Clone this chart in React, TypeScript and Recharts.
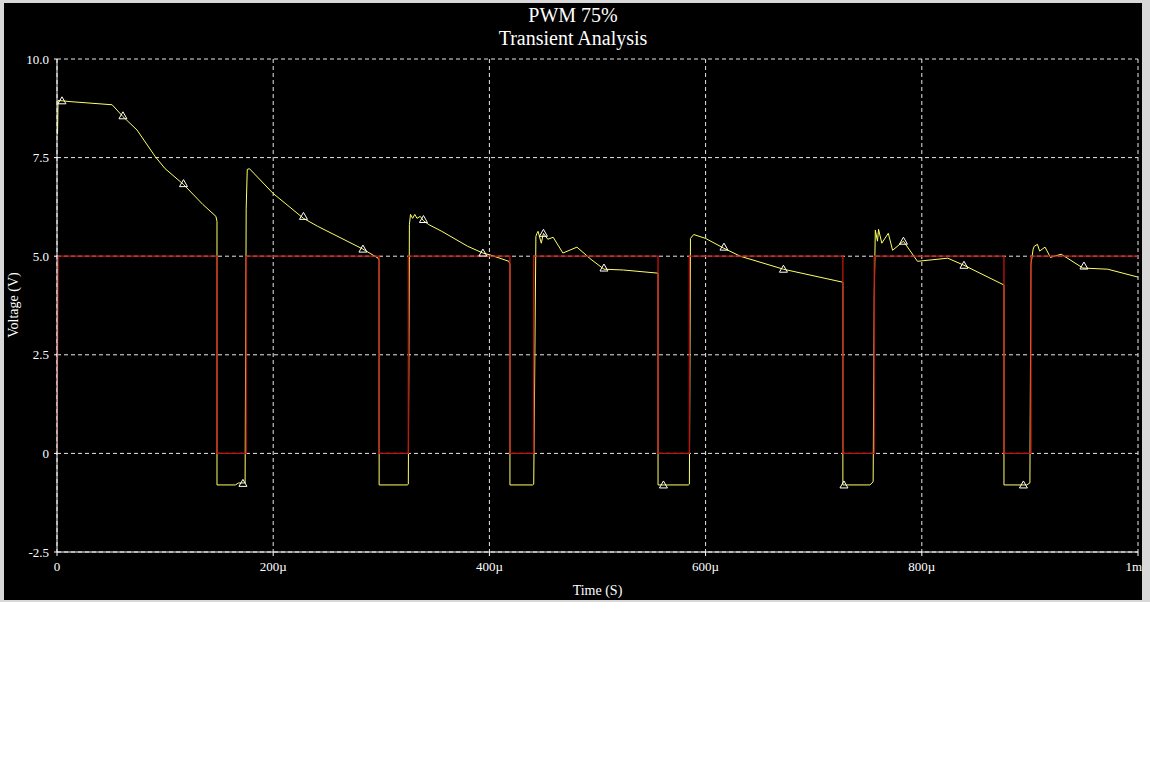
import React from 'react';
import { ComposedChart, Line, XAxis, YAxis, CartesianGrid } from 'recharts';

// PWM drive signal (red), time in µs
const pwmTime = [0, 1, 148, 148, 175, 175, 298, 298, 325, 325, 419, 419, 441, 441, 556, 556, 585, 585, 727, 727, 756, 756, 876, 876, 901, 901, 1000];
const pwmVolt = [0, 5, 5, 0, 0, 5, 5, 0, 0, 5, 5, 0, 0, 5, 5, 0, 0, 5, 5, 0, 0, 5, 5, 0, 0, 5, 5];

// output voltage (yellow)
const outTime = [
  0.5, 1, 12, 51, 61, 74, 91, 100, 117, 135, 147, 148, 148, 165, 168, 174,
  175, 176, 178, 200, 228, 241, 283, 294, 297, 298, 298, 324,
  325, 326, 327, 329, 331, 333, 336, 339, 344, 356, 380, 394, 401, 418, 419, 419, 440,
  441, 443, 444, 445, 448, 450, 454, 459, 468, 481, 494, 506, 524, 556, 556, 584,
  585, 586, 589, 600, 617, 632, 672, 727, 727, 752, 755,
  756, 757, 759, 760, 763, 769, 773, 783, 796, 824, 839, 876, 876, 897, 900,
  901, 903, 904, 907, 909, 914, 919, 929, 949, 972, 1000,
];
const outVolt = [
  8.1, 8.95, 8.92, 8.84, 8.54, 8.2, 7.52, 7.22, 6.82, 6.31, 6.01, 5.88, -0.8, -0.8, -0.75, -0.75,
  6.2, 7.2, 7.22, 6.59, 5.96, 5.76, 5.18, 5.0, 4.95, 4.9, -0.8, -0.8,
  -0.78, 5.8, 6.06, 5.96, 6.06, 5.96, 6.01, 5.9, 5.8, 5.63, 5.25, 5.08, 5.03, 4.87, 4.8, -0.8, -0.8,
  -0.78, 5.5, 5.58, 5.63, 5.33, 5.58, 5.43, 5.48, 5.08, 5.23, 4.92, 4.67, 4.65, 4.57, -0.8, -0.8,
  -0.78, 5.45, 5.55, 5.45, 5.2, 5.0, 4.67, 4.34, -0.8, -0.8, -0.72,
  4.0, 5.66, 5.38, 5.68, 5.33, 5.58, 5.15, 5.38, 4.87, 4.95, 4.77, 4.27, -0.8, -0.8, -0.75,
  4.8, 5.18, 5.25, 5.3, 5.13, 5.23, 4.97, 5.05, 4.7, 4.67, 4.47,
];

// probe markers along the output trace
const markerTime = [4.6, 61, 117, 172, 228, 283, 339, 394, 450, 506, 561, 617, 672, 728, 783, 839, 894, 950];
const markerVolt = [8.94, 8.56, 6.84, -0.76, 6.01, 5.18, 5.93, 5.08, 5.58, 4.7, -0.8, 5.23, 4.67, -0.8, 5.38, 4.77, -0.8, 4.75];

const xTicks = [0, 200, 400, 600, 800, 1000];
const xTickLabels = ['0', '200µ', '400µ', '600µ', '800µ', '1m'];
const yTicks = [-2.5, 0, 2.5, 5, 7.5, 10];
const yTickLabels = ['-2.5', '0', '2.5', '5.0', '7.5', '10.0'];

const pwmData = pwmTime.map((t, i) => ({ t, v: pwmVolt[i] }));
const outData = outTime.map((t, i) => ({ t, v: outVolt[i] }));
const markerData = markerTime.map((t, i) => ({ t, v: markerVolt[i] }));

const FONT = '"Liberation Serif", "Times New Roman", serif';

function Triangle(props: any) {
  const { cx, cy, index } = props;
  if (cx == null || cy == null) return <g key={index} />;
  return (
    <polygon
      key={index}
      points={`${cx},${cy - 4} ${cx - 4},${cy + 3} ${cx + 4},${cy + 3}`}
      fill="none"
      stroke="#ffffff"
      strokeWidth={1}
    />
  );
}

// last label sits right at the panel edge, so anchor it at its end
function XTick(props: any) {
  const { x, y, payload, index } = props;
  const i = xTicks.indexOf(payload.value);
  const last = i === xTicks.length - 1;
  return (
    <text
      key={index}
      x={last ? x + 4 : x}
      y={y}
      dy="0.71em"
      textAnchor={last ? 'end' : 'middle'}
      fill="#ffffff"
      fontSize={13}
      fontFamily={FONT}
    >
      {xTickLabels[i]}
    </text>
  );
}

export default function App() {
  return (
    <div style={{ position: 'absolute', left: 0, top: 0, width: 1150, height: 769, background: '#fff' }}>
      <div style={{ position: 'absolute', left: 0, top: 0, width: 1150, height: 602, background: '#d8d8d8' }} />
      <div
        style={{
          position: 'absolute',
          left: 4,
          top: 3,
          width: 1138,
          height: 597,
          background: '#000',
          overflow: 'hidden',
          fontFamily: FONT,
        }}
      >
        <div style={{ position: 'absolute', left: 0, width: 1138, top: 1, textAlign: 'center', color: '#fff', fontSize: 20, lineHeight: '23px' }}>
          PWM 75%
          <br />
          Transient Analysis
        </div>
        <div style={{ position: 'absolute', left: 53, width: 1081, top: 580, textAlign: 'center', color: '#fff', fontSize: 14 }}>
          Time (S)
        </div>
        <div
          style={{
            position: 'absolute',
            left: 10,
            top: 302,
            color: '#fff',
            fontSize: 14,
            whiteSpace: 'nowrap',
            transform: 'translate(-50%, -50%) rotate(-90deg)',
          }}
        >
          Voltage (V)
        </div>
        <ComposedChart
          width={1138}
          height={597}
          margin={{ top: 56, right: 4, left: 0, bottom: 0 }}
          style={{ position: 'absolute', left: 0, top: 0 }}
        >
          <CartesianGrid stroke="#e8e8e8" strokeDasharray="4 3" />
          <XAxis
            type="number"
            dataKey="t"
            domain={[0, 1000]}
            ticks={xTicks}
            height={48}
            allowDataOverflow
            stroke="#ffffff"
            tickSize={4}
            tickMargin={6}
            tick={<XTick />}
            interval={0}
          />
          <YAxis
            type="number"
            domain={[-2.5, 10]}
            ticks={yTicks}
            tickFormatter={(v: number) => yTickLabels[yTicks.indexOf(v)]}
            width={53}
            allowDataOverflow
            stroke="#ffffff"
            tickSize={3}
            tickMargin={5}
            tick={{ fill: '#ffffff', fontSize: 13, fontFamily: FONT }}
            interval={0}
          />
          <Line
            data={outData}
            dataKey="v"
            type="linear"
            stroke="#ffff66"
            strokeWidth={1}
            dot={false}
            activeDot={false}
            isAnimationActive={false}
          />
          <Line
            data={pwmData}
            dataKey="v"
            type="linear"
            stroke="#c0140f"
            strokeWidth={1.3}
            dot={false}
            activeDot={false}
            isAnimationActive={false}
          />
          <Line
            data={markerData}
            dataKey="v"
            type="linear"
            stroke="none"
            dot={<Triangle />}
            activeDot={false}
            isAnimationActive={false}
          />
        </ComposedChart>
      </div>
    </div>
  );
}
